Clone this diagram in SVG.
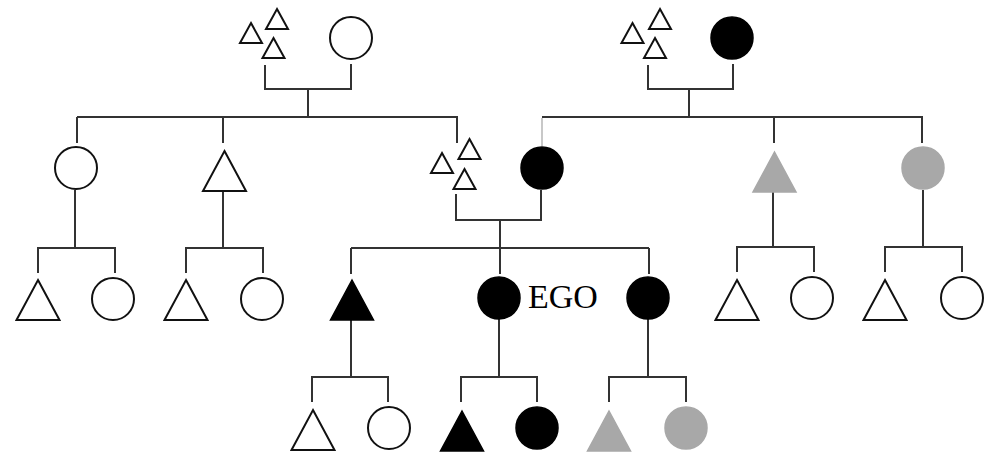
<svg xmlns="http://www.w3.org/2000/svg" xmlns:xlink="http://www.w3.org/1999/xlink" width="992" height="452" viewBox="0 0 992 452">
<style>
.o{fill:#fff;stroke:#111;stroke-width:2}
.b{fill:#000;stroke:#000;stroke-width:1.5}
.g{fill:#a8a8a8;stroke:#a8a8a8;stroke-width:1.5}
.ln{fill:none;stroke:#333;stroke-width:2}
.lg{fill:none;stroke:#c8c8c8;stroke-width:2}
.t{font-family:"Liberation Serif",serif;font-size:34px;fill:#000}
</style>
<defs>
<path id="T" d="M0,0 L21.5,40 L-21.5,40 Z"/>
<path id="s" d="M0,0 L11,20 L-11,20 Z"/>
</defs>
<rect width="992" height="452" fill="#fff"/>
<g id="connectors">
<path class="ln" d="M265,65V89H351V64M308,89V117M77,117H457V143M77,117V143M223,117V143"/>
<path class="ln" d="M648,65V89H733V64M689,89V117H922V143M774,117V143"/>
<path class="ln" d="M542,117H689"/>
<path class="lg" d="M542,118V146"/>
<path class="ln" d="M456,194V220H541V190M500,220V248M351,248H649M351,248V274M500,248V274M649,248V274"/>
<path class="ln" d="M75,190V248M38,273V248H115V273M223,191V248M186,273V248H263V273"/>
<path class="ln" d="M773,190V247M737,272V247H814V272M923,190V247M885,272V247H962V272"/>
<path class="ln" d="M351,319V377M312,402V377H388V402M499,319V377M461,402V377H537V402M648,319V377M609,402V377H686V402"/>
</g>
<g id="gp1"><use href="#s" class="o" x="251" y="23"/><use href="#s" class="o" x="277" y="9"/><use href="#s" class="o" x="273.5" y="38"/></g>
<g id="gm1"><circle class="o" cx="351" cy="38" r="21"/></g>
<g id="gp2"><use href="#s" class="o" x="632.5" y="23"/><use href="#s" class="o" x="660" y="9"/><use href="#s" class="o" x="655" y="38"/></g>
<g id="gm2"><circle class="b" cx="732" cy="38" r="21"/></g>
<g id="aunt1"><circle class="o" cx="76" cy="168" r="21"/></g>
<g id="uncle1"><use href="#T" class="o" x="224.5" y="151"/></g>
<g id="father"><use href="#s" class="o" x="442" y="153"/><use href="#s" class="o" x="469.5" y="139"/><use href="#s" class="o" x="464.5" y="169"/></g>
<g id="mother"><circle class="b" cx="542" cy="168" r="21"/></g>
<g id="uncle2"><use href="#T" class="g" x="774.5" y="152"/></g>
<g id="aunt2"><circle class="g" cx="923" cy="168" r="21"/></g>
<g id="c1"><use href="#T" class="o" x="38" y="280"/></g>
<g id="c2"><circle class="o" cx="113" cy="299" r="21"/></g>
<g id="c3"><use href="#T" class="o" x="186" y="280"/></g>
<g id="c4"><circle class="o" cx="262" cy="299" r="21"/></g>
<g id="brother"><use href="#T" class="b" x="352" y="280"/></g>
<g id="ego"><circle class="b" cx="499" cy="298" r="21"/><text class="t" x="528" y="308">EGO</text></g>
<g id="sister"><circle class="b" cx="648" cy="298" r="21"/></g>
<g id="c5"><use href="#T" class="o" x="737" y="280"/></g>
<g id="c6"><circle class="o" cx="812" cy="298" r="21"/></g>
<g id="c7"><use href="#T" class="o" x="885" y="280"/></g>
<g id="c8"><circle class="o" cx="962" cy="298" r="21"/></g>
<g id="g1"><use href="#T" class="o" x="313" y="410"/></g>
<g id="g2"><circle class="o" cx="389" cy="428" r="21"/></g>
<g id="g3"><use href="#T" class="b" x="462" y="411"/></g>
<g id="g4"><circle class="b" cx="537" cy="428" r="21"/></g>
<g id="g5"><use href="#T" class="g" x="609" y="411"/></g>
<g id="g6"><circle class="g" cx="686" cy="428" r="21"/></g>
</svg>
